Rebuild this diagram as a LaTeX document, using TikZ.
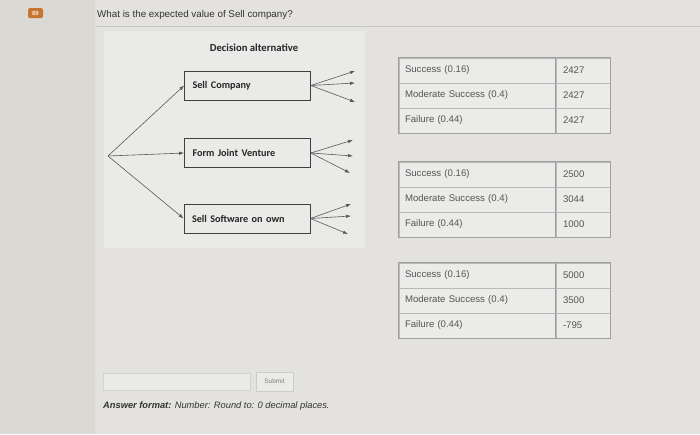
\documentclass[tikz,border=0pt]{standalone}
\usepackage{fontspec}
\setmainfont{Liberation Sans}
\newfontfamily\treefont{Carlito}
\usetikzlibrary{arrows.meta,positioning}
\definecolor{pagebg}{HTML}{E3E2DE}
\definecolor{stripbg}{HTML}{DBD9D4}
\definecolor{panelbg}{HTML}{EAEAE8}
\definecolor{cellbg}{HTML}{EBEBE9}
\definecolor{badge}{HTML}{C8742C}
\definecolor{softtext}{HTML}{555555}

\begin{document}
\begin{tikzpicture}[x=1pt,y=-1pt,
    choice/.style={
        draw=black!75,
        fill=panelbg,
        line width=0.7pt,
        minimum width=126pt,
        minimum height=29pt,
        text width=110pt,
        align=left,
        inner sep=0pt,
        font=\treefont\bfseries\fontsize{10.2}{12}\selectfont,
        text=black!85,
    },
    branch/.style={
        -{Latex[length=5pt,width=3.5pt]},
        line width=0.6pt,
        draw=black!65,
    },
    lab/.style={
        draw=gray!55,
        fill=cellbg,
        minimum width=157pt,
        minimum height=25pt,
        text width=145pt,
        align=left,
        inner sep=0pt,
        font=\fontsize{9.6}{11}\selectfont,
        text=softtext,
    },
    val/.style={
        lab,
        minimum width=54pt,
        text width=40pt,
    },
    tableframe/.style={
        draw=gray!75,
        line width=0.8pt,
    },
]
% page
\fill[pagebg] (0,0) rectangle (700,434);
\fill[stripbg] (0,0) rectangle (95,434);
\useasboundingbox (0,0) rectangle (700,434);
\draw[gray!45] (96,26) -- (700,26);
\fill[panelbg] (104,31) rectangle (365,248);

\node[fill=badge,rounded corners=1.5pt,minimum width=15pt,minimum height=10pt,inner sep=0pt,
      font=\fontsize{6}{7}\selectfont\bfseries,text=white!85!badge] (num) at (35.5,13) {89};
\node[anchor=base west,font=\fontsize{9.8}{12}\selectfont,text=black!80,inner sep=0pt] (question) at (97,17.5)
    {What is the expected value of Sell company?};

% decision tree
\node[font=\treefont\bfseries\fontsize{10.7}{12}\selectfont,text=black!85] (title) at (254,48) {Decision alternative};

\coordinate (root) at (108,156);
\node[choice] (sell) at (247.5,85.5) {Sell Company};
\node[choice] (joint) at (247.5,153) {Form Joint Venture};
\node[choice] (own) at (247,218.5) {Sell Software on own};

\draw[branch] (root) -- (sell.west);
\draw[branch] (root) -- (joint.west);
\draw[branch] (root) -- (own.west);

\coordinate (s1) at (355,71);
\coordinate (s2) at (355,83);
\coordinate (s3) at (355,102);
\coordinate (j1) at (353,140);
\coordinate (j2) at (353,156);
\coordinate (j3) at (350,173);
\coordinate (o1) at (351,204);
\coordinate (o2) at (351,216);
\coordinate (o3) at (348,234);
\foreach \b/\n in {sell/s,joint/j,own/o}{
    \foreach \k in {1,2,3}
        \draw[branch] (\b.east) -- (\n\k);
}

% outcome tables
\foreach \t/\ty/\va/\vb/\vc in {1/58/2427/2427/2427, 2/162/2500/3044/1000, 3/263/5000/3500/-795}{
    \node[lab] (lab\t a) at (477.5,\ty+12.5) {Success (0.16)};
    \node[lab] (lab\t b) at (477.5,\ty+37.5) {Moderate Success (0.4)};
    \node[lab] (lab\t c) at (477.5,\ty+62.5) {Failure (0.44)};
    \node[val] (val\t a) at (583,\ty+12.5) {\va};
    \node[val] (val\t b) at (583,\ty+37.5) {\vb};
    \node[val] (val\t c) at (583,\ty+62.5) {\vc};
    \draw[tableframe] (lab\t a.north west) rectangle (val\t c.south east);
    \draw[tableframe] (val\t a.north west) -- (val\t c.south west);
}

% answer area
\node[draw=gray!35,fill=panelbg,minimum width=147pt,minimum height=17pt,inner sep=0pt] (answer) at (176.5,381.5) {};
\node[draw=gray!40,fill=cellbg,minimum width=37pt,minimum height=19pt,inner sep=0pt,
      font=\fontsize{6.5}{7}\selectfont,text=gray] (submit) at (274.5,381.5) {Submit};
\node[anchor=base west,font=\fontsize{9.3}{11}\selectfont\itshape,text=black!80,inner sep=0pt] (format) at (103,408)
    {\textbf{Answer format:} Number: Round to: 0 decimal places.};
\end{tikzpicture}
\end{document}
